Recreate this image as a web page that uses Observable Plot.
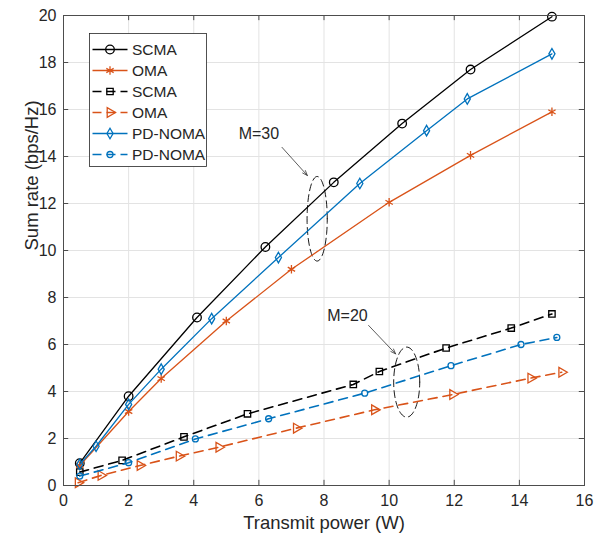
<!DOCTYPE html>
<html><head><meta charset="utf-8">
<script src="https://cdn.jsdelivr.net/npm/d3@7"></script>
<script src="https://cdn.jsdelivr.net/npm/@observablehq/plot@0.6"></script>
<style>
body{margin:0;background:#fff;}
#wrap{position:relative;width:610px;height:539px;}
#legend{position:absolute;left:89px;top:33px;}
</style></head><body><div id="wrap"></div>
<script>
// ---- data ----
const xTicks = [0, 2, 4, 6, 8, 10, 12, 14, 16];
const yTicks = [0, 2, 4, 6, 8, 10, 12, 14, 16, 18, 20];

const scma30X = [0.5, 2, 4.1, 6.2, 8.3, 10.4, 12.5, 15];
const scma30Y = [0.95, 3.8, 7.15, 10.15, 12.9, 15.4, 17.7, 19.95];

const oma30X = [0.5, 2, 3, 5, 7, 10, 12.5, 15];
const oma30Y = [0.85, 3.15, 4.55, 7.0, 9.2, 12.05, 14.05, 15.9];

const scma20X = [0.5, 1.8, 3.7, 5.65, 8.9, 9.7, 11.75, 13.75, 15];
const scma20Y = [0.57, 1.07, 2.07, 3.05, 4.3, 4.85, 5.85, 6.7, 7.3];

const oma20X = [0.45, 1.15, 2.35, 3.55, 4.77, 7.15, 9.55, 11.95, 14.35, 15.3];
const oma20Y = [0.12, 0.43, 0.85, 1.25, 1.63, 2.44, 3.22, 3.87, 4.57, 4.82];

const noma30X = [0.5, 1, 2, 3, 4.55, 6.6, 9.1, 11.15, 12.4, 15];
const noma30Y = [0.9, 1.67, 3.45, 4.95, 7.1, 9.7, 12.85, 15.1, 16.45, 18.37];

const noma20X = [0.5, 2, 4.05, 6.3, 9.25, 11.9, 14.05, 15.15];
const noma20Y = [0.4, 0.97, 1.98, 2.84, 3.93, 5.1, 6.0, 6.3];

const seriesNames = ["SCMA", "OMA", "SCMA", "OMA", "PD-NOMA", "PD-NOMA"];

const annoLabels = ["M=30", "M=20"];
const annoLabelX = [6.0, 8.72];
const annoLabelY = [14.98, 7.23];
const arrowX1 = [6.71, 9.37], arrowY1 = [14.39, 6.81];
const arrowX2 = [7.49, 10.2], arrowY2 = [13.19, 5.6];
const ellipseCX = [7.79, 10.54], ellipseCY = [11.35, 4.4];
const ellipseRX = [0.31, 0.4], ellipseRY = [1.8, 1.49];

// ---- styles ----
const BLACK = "#000000", ORANGE = "#D95319", BLUE = "#0072BD";
const styles = [
  {color: BLACK,  dash: null,  symbol: "circle",   r: 4.3, rotate: 0,  sw: 1.3},
  {color: ORANGE, dash: null,  symbol: "asterisk", r: 4.0, rotate: 0,  sw: 1.3},
  {color: BLACK,  dash: "9,6", symbol: "square",   r: 3.6, rotate: 0,  sw: 1.6},
  {color: ORANGE, dash: "9,6", symbol: "triangle", r: 3.6, rotate: 90, sw: 1.6},
  {color: BLUE,   dash: null,  symbol: "diamond",  r: 3.2, rotate: 0,  sw: 1.3},
  {color: BLUE,   dash: "9,6", symbol: "circle",   r: 3.0, rotate: 0,  sw: 1.6}
];
const seriesXY = [[scma30X, scma30Y], [oma30X, oma30Y], [scma20X, scma20Y], [oma20X, oma20Y], [noma30X, noma30Y], [noma20X, noma20Y]];

const series = seriesXY.map(([xs, ys], i) => ({
  name: seriesNames[i], style: styles[i],
  rows: xs.map((x, j) => ({x, y: ys[j]}))
}));

// ellipses (annotation shapes)
const ellipsePts = [];
ellipseCX.forEach((cx, k) => {
  for (let t = 0; t <= 72; t++) {
    const a = t / 72 * 2 * Math.PI;
    ellipsePts.push({k, x: cx + ellipseRX[k] * Math.cos(a), y: ellipseCY[k] + ellipseRY[k] * Math.sin(a)});
  }
});
const arrows = annoLabels.map((l, i) => ({x1: arrowX1[i], y1: arrowY1[i], x2: arrowX2[i], y2: arrowY2[i]}));
const labels = annoLabels.map((t, i) => ({t, x: annoLabelX[i], y: annoLabelY[i]}));

const GRID = "#e3e3e3", AX = "#4d4d4d", TXT = "#262626";
const one = [{}];

const marks = [
  Plot.ruleX(xTicks, {stroke: GRID, strokeWidth: 1}),
  Plot.ruleY(yTicks, {stroke: GRID, strokeWidth: 1}),
  // inward ticks
  Plot.ruleX(xTicks, {y1: 0, y2: 0.22, stroke: AX}),
  Plot.ruleX(xTicks, {y1: 19.78, y2: 20, stroke: AX}),
  Plot.ruleY(yTicks, {x1: 0, x2: 0.16, stroke: AX}),
  Plot.ruleY(yTicks, {x1: 15.84, x2: 16, stroke: AX}),
  Plot.line(ellipsePts, {x: "x", y: "y", z: "k", stroke: BLACK, strokeWidth: 0.9, strokeDasharray: "7,4"}),
  Plot.arrow(arrows, {x1: "x1", y1: "y1", x2: "x2", y2: "y2", stroke: "#333", strokeWidth: 0.8, headLength: 10, headAngle: 40}),
  Plot.text(labels, {x: "x", y: "y", text: "t", fontSize: 16, fill: TXT})
];
series.forEach(s => {
  const st = s.style;
  marks.push(Plot.line(s.rows, {x: "x", y: "y", stroke: st.color, strokeWidth: st.sw, strokeDasharray: st.dash || undefined}));
  marks.push(Plot.dot(s.rows, {x: "x", y: "y", symbol: st.symbol, r: st.r, rotate: st.rotate, stroke: st.color, strokeWidth: 1.3, fill: "none"}));
});
marks.push(
  Plot.frame({stroke: AX, strokeWidth: 1}),
  Plot.axisX(xTicks, {tickSize: 0, tickPadding: 9, fontSize: 16, fill: TXT, label: null}),
  Plot.axisY(yTicks, {tickSize: 0, tickPadding: 7, fontSize: 16, fill: TXT, label: null}),
  Plot.text(one, {frameAnchor: "bottom", text: () => "Transmit power (W)", dy: 43, fontSize: 18.5, fill: TXT}),
  Plot.text(one, {frameAnchor: "left", text: () => "Sum rate (bps/Hz)", rotate: -90, dx: -31, fontSize: 18.5, fill: TXT})
);

const chart = Plot.plot({
  width: 610, height: 539,
  marginLeft: 63, marginRight: 26, marginTop: 15, marginBottom: 54,
  x: {domain: [0, 16]},
  y: {domain: [0, 20]},
  style: {fontFamily: "'Liberation Sans', Arial, sans-serif", background: "#fff", color: TXT},
  marks
});
const wrap = document.getElementById("wrap");
wrap.appendChild(chart);

// ---- legend ----
const lg = d3.select(wrap).append("svg").attr("id", "legend").attr("width", 119).attr("height", 135);
lg.append("rect").attr("x", 0.5).attr("y", 0.5).attr("width", 117).attr("height", 133)
  .attr("fill", "#fff").attr("stroke", "#262626").attr("stroke-width", 0.8);
const symMap = {circle: d3.symbolCircle, asterisk: d3.symbolAsterisk, square: d3.symbolSquare, triangle: d3.symbolTriangle, diamond: d3.symbolDiamond};
series.forEach((s, i) => {
  const st = s.style, y = 16.5 + i * 21;
  const g = lg.append("g");
  g.append("line").attr("x1", 3.5).attr("x2", 38.5).attr("y1", y).attr("y2", y)
    .attr("stroke", st.color).attr("stroke-width", st.sw).attr("stroke-dasharray", st.dash ? "9,5" : null);
  g.append("path").attr("d", d3.symbol(symMap[st.symbol], Math.PI * st.r * st.r)())
    .attr("transform", `translate(21,${y}) rotate(${st.rotate})`)
    .attr("fill", "none").attr("stroke", st.color).attr("stroke-width", 1.3);
  g.append("text").attr("x", 43).attr("y", y).attr("dy", "0.35em")
    .attr("font-family", "'Liberation Sans', Arial, sans-serif").attr("font-size", 15.5).attr("fill", TXT).text(s.name);
});
</script></body></html>
